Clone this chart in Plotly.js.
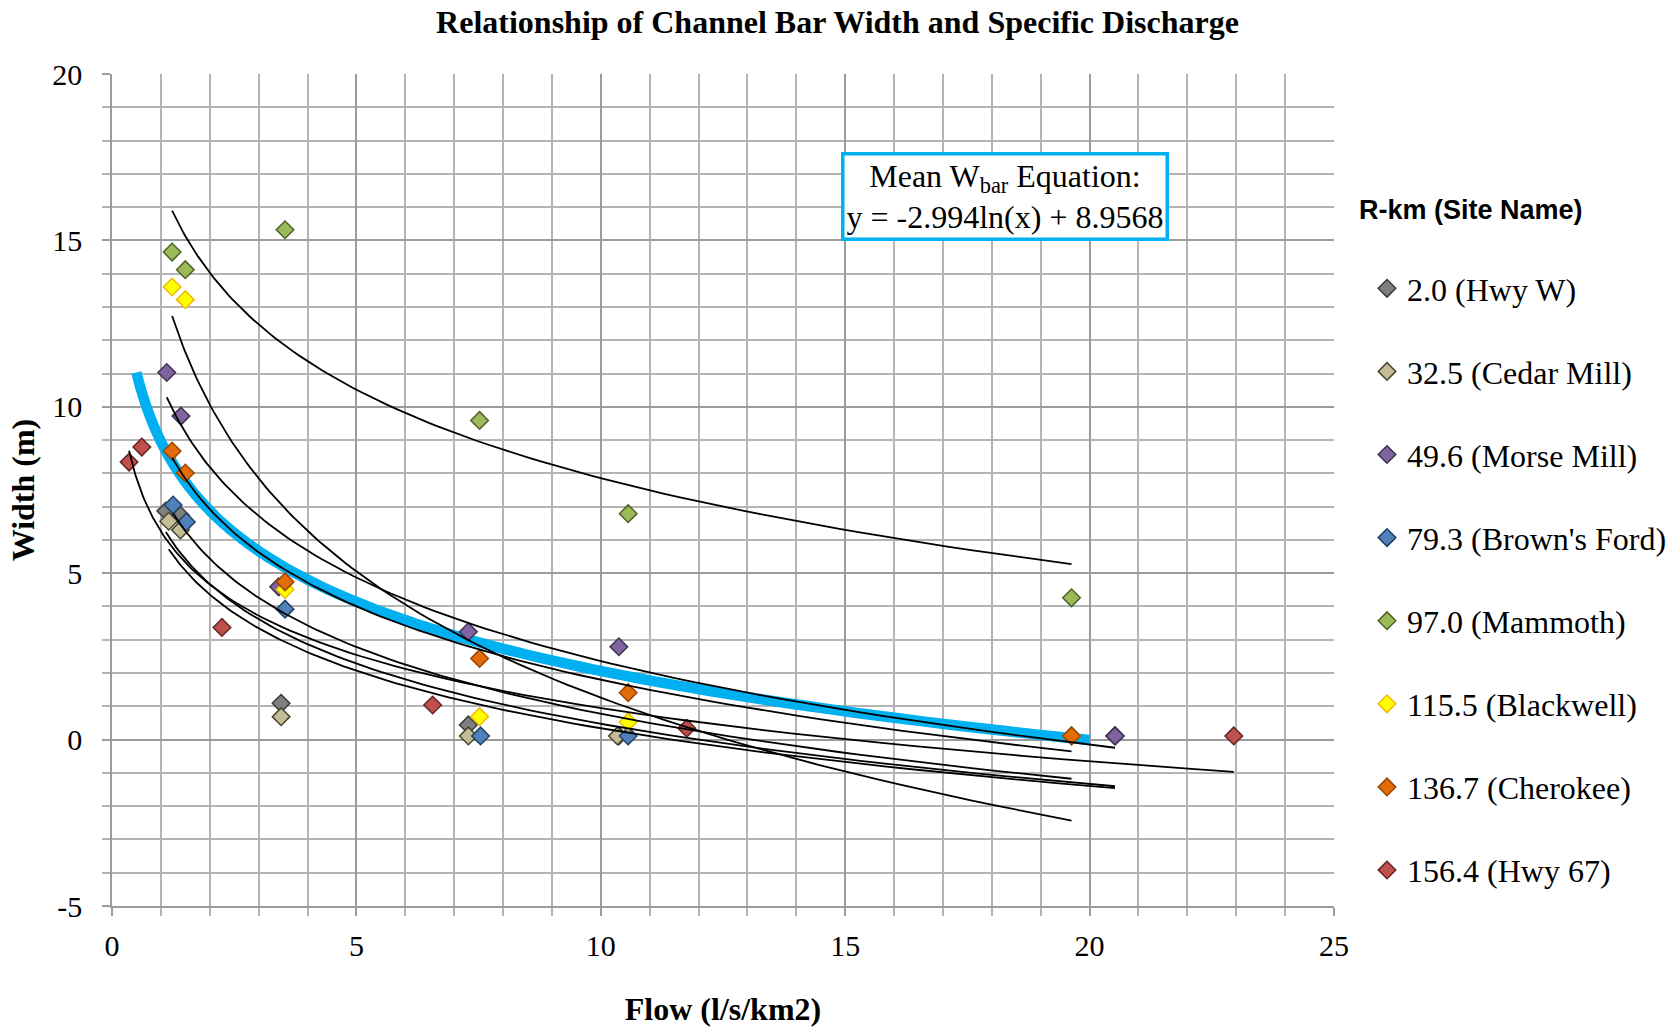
<!DOCTYPE html>
<html><head><meta charset="utf-8">
<script src="https://cdn.plot.ly/plotly-3.0.1.min.js"></script>
<style>html,body{margin:0;padding:0;background:#fff}#chart{width:1675px;height:1032px}</style>
</head><body><div id="chart"></div>
<script>
// ---- Data ----
const siteNames = ['2.0 (Hwy W)', '32.5 (Cedar Mill)', '49.6 (Morse Mill)', "79.3 (Brown's Ford)",
                   '97.0 (Mammoth)', '115.5 (Blackwell)', '136.7 (Cherokee)', '156.4 (Hwy 67)'];

const hwyW_x      = [1.10, 1.40, 3.46, 7.29, 10.37, 20.52];
const hwyW_y      = [6.87, 6.74, 1.09, 0.44, 0.11, 0.11];
const cedarMill_x = [1.16, 1.40, 3.46, 7.29, 10.34, 20.52];
const cedarMill_y = [6.56, 6.30, 0.69, 0.11, 0.11, 0.11];
const morseMill_x = [1.12, 1.41, 3.41, 7.29, 10.37, 20.52];
const morseMill_y = [11.03, 9.72, 4.59, 3.24, 2.79, 0.11];
const brownsFord_x = [1.25, 1.52, 3.54, 7.54, 10.56, 19.63];
const brownsFord_y = [7.05, 6.54, 3.92, 0.11, 0.11, 0.11];
const mammoth_x   = [1.23, 1.50, 3.54, 7.52, 10.56, 19.63];
const mammoth_y   = [14.65, 14.12, 15.32, 9.59, 6.79, 4.26];
const blackwell_x = [1.23, 1.50, 3.54, 7.52, 10.56, 19.63];
const blackwell_y = [13.60, 13.22, 4.51, 0.69, 0.53, 0.11];
const cherokee_x  = [1.23, 1.50, 3.54, 7.52, 10.56, 19.63];
const cherokee_y  = [8.67, 8.01, 4.74, 2.44, 1.41, 0.11];
const hwy67_x     = [0.35, 0.61, 2.25, 6.56, 11.76, 22.95];
const hwy67_y     = [8.34, 8.79, 3.37, 1.04, 0.34, 0.11];

// Mean W_bar equation (from the chart annotation) and its plotted x-span
const meanSlope = -2.994;
const meanIntercept = 8.9568;
const meanXRange = [0.5, 20];

// Tick labels
const xTickVals = [0, 5, 10, 15, 20, 25];
const xTickText = ['0', '5', '10', '15', '20', '25'];
const yTickVals = [-5, 0, 5, 10, 15, 20];
const yTickText = ['-5', '0', '5', '10', '15', '20'];

// ---- Styles ----
const fills   = ['#7f7f7f', '#c4bd97', '#8064a2', '#4f81bd', '#9bbb59', '#ffff00', '#e36c09', '#c0504d'];
const borders = ['#3a3a3a', '#4a452a', '#3f3151', '#244061', '#4f6228', '#f2b800', '#974806', '#632523'];

const siteX = [hwyW_x, cedarMill_x, morseMill_x, brownsFord_x, mammoth_x, blackwell_x, cherokee_x, hwy67_x];
const siteY = [hwyW_y, cedarMill_y, morseMill_y, brownsFord_y, mammoth_y, blackwell_y, cherokee_y, hwy67_y];

// Logarithmic least-squares trendline (as the spreadsheet computes it)
function logFit(xs, ys) {
  const lx = xs.map(Math.log);
  const n = xs.length;
  const mx = lx.reduce((a, b) => a + b, 0) / n;
  const my = ys.reduce((a, b) => a + b, 0) / n;
  let sxy = 0, sxx = 0;
  for (let i = 0; i < n; i++) { sxy += (lx[i] - mx) * (ys[i] - my); sxx += (lx[i] - mx) ** 2; }
  const a = sxy / sxx;
  return [a, my - a * mx];
}
function curve(a, b, x0, x1, steps) {
  const xs = [], ys = [];
  for (let i = 0; i <= steps; i++) {
    const x = x0 * Math.pow(x1 / x0, i / steps);
    xs.push(x); ys.push(a * Math.log(x) + b);
  }
  return [xs, ys];
}

const traces = [];
// Mean curve (thick blue), drawn beneath the markers
const mc = curve(meanSlope, meanIntercept, meanXRange[0], meanXRange[1], 120);
traces.push({x: mc[0], y: mc[1], type: 'scatter', mode: 'lines', showlegend: false, hoverinfo: 'skip',
  line: {color: '#00b0f0', width: 10.5, shape: 'spline'}});

// Site markers
siteNames.forEach((name, i) => {
  traces.push({x: siteX[i], y: siteY[i], type: 'scatter', mode: 'markers', name: name,
    legendgroup: 'g' + i,
    marker: {symbol: 'diamond', size: 13.5, color: fills[i], line: {color: borders[i], width: 1.5}}});
});

// Site trendlines on top
siteNames.forEach((name, i) => {
  const [a, b] = logFit(siteX[i], siteY[i]);
  const xs = siteX[i];
  const c = curve(a, b, Math.min(...xs), Math.max(...xs), 100);
  traces.push({x: c[0], y: c[1], type: 'scatter', mode: 'lines', showlegend: false, hoverinfo: 'skip',
    line: {color: '#000000', width: 1.8}});
});

const serif = '"Liberation Serif", "Times New Roman", serif';
const gridMajor = '#9c9c9c', gridMinor = '#b4b4b4';

const layout = {
  width: 1675, height: 1032,
  paper_bgcolor: '#ffffff', plot_bgcolor: '#ffffff',
  margin: {l: 112, r: 341, t: 74, b: 126},
  title: {text: '<b>Relationship of Channel Bar Width and Specific Discharge</b>',
    font: {family: serif, size: 32, color: '#000'}, x: 0.5, xref: 'container', xanchor: 'center',
    y: 1 - 22 / 1032, yref: 'container', yanchor: 'middle'},
  xaxis: {range: [0, 25], tickmode: 'array', tickvals: xTickVals, ticktext: xTickText,
    showgrid: true, gridcolor: gridMajor, gridwidth: 1.6,
    zeroline: false, showline: true, linecolor: gridMajor, linewidth: 1.6,
    ticks: 'outside', ticklen: 8, tickcolor: gridMajor, tickwidth: 1.6, ticklabelstandoff: 4,
    minor: {dtick: 1, tick0: 0, showgrid: true, gridcolor: gridMinor, gridwidth: 1.6, ticks: 'outside', ticklen: 8, tickcolor: gridMinor},
    tickfont: {family: serif, size: 30, color: '#000'},
    title: {text: '<b>Flow (l/s/km2)</b>', font: {family: serif, size: 32, color: '#000'}, standoff: 37}},
  yaxis: {range: [-5, 20], tickmode: 'array', tickvals: yTickVals, ticktext: yTickText,
    showgrid: true, gridcolor: gridMajor, gridwidth: 1.6,
    zeroline: false, showline: true, linecolor: gridMajor, linewidth: 1.6,
    ticks: 'outside', ticklen: 8, tickcolor: gridMajor, tickwidth: 1.6, ticklabelstandoff: 14,
    minor: {dtick: 1, tick0: 0, showgrid: true, gridcolor: gridMinor, gridwidth: 1.6, ticks: 'outside', ticklen: 8, tickcolor: gridMinor},
    tickfont: {family: serif, size: 30, color: '#000'},
    title: {text: '<b>Width (m)</b>', font: {family: serif, size: 32, color: '#000'}, standoff: 8}},
  showlegend: true,
  legend: {xref: 'container', yref: 'container', x: 1367 / 1675, xanchor: 'left', y: 1 - 261 / 1032, yanchor: 'top',
    font: {family: serif, size: 32, color: '#000'}, tracegroupgap: 38.5, itemwidth: 30, maxheight: 760,
    bgcolor: 'rgba(0,0,0,0)', borderwidth: 0},
  annotations: [
    {xref: 'paper', yref: 'paper', x: (1357 - 112) / 1222, y: (906 - 210) / 832, xanchor: 'left', yanchor: 'middle',
     text: '<b>R-km (Site Name)</b>', showarrow: false,
     font: {family: '"Liberation Sans", Arial, sans-serif', size: 27, color: '#000'}},
    {xref: 'x', yref: 'y', x: 18.27, y: 16.33, xanchor: 'center', yanchor: 'middle', showarrow: false,
     text: 'Mean W<sub>bar</sub> Equation:<br>y = -2.994ln(x) + 8.9568', align: 'center',
     font: {family: serif, size: 32, color: '#000'}, bgcolor: '#ffffff',
     bordercolor: '#00b0f0', borderwidth: 3.5, borderpad: 2}
  ]
};

Plotly.newPlot('chart', traces, layout, {displayModeBar: false, responsive: false});
</script></body></html>
